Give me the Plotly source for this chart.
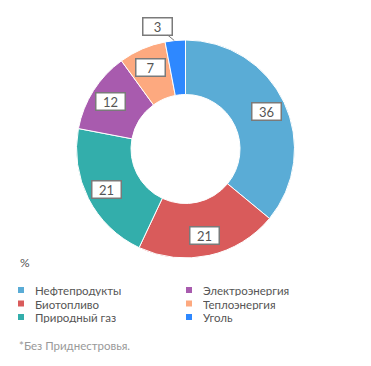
import math
import plotly.graph_objects as go

categories = ["Нефтепродукты", "Биотопливо", "Природный газ", "Электроэнергия", "Теплоэнергия", "Уголь"]
values = [36, 21, 21, 12, 7, 3]
colors = ["#5AACD6", "#D95B5B", "#33AEAB", "#A85BAE", "#FDA97F", "#2E88FF"]
unit_label = "%"
footnote = "*Без Приднестровья."

W, H = 371, 366
cx, cy, R = 185.5, 149, 109

def px(x):
    return x / W

def py(y):
    return 1 - y / H

fig = go.Figure(go.Pie(
    labels=categories, values=values, sort=False, direction="clockwise", rotation=0,
    hole=0.5, marker=dict(colors=colors, line=dict(color="white", width=1)),
    textinfo="none", hoverinfo="label+value", showlegend=False,
    domain=dict(x=[px(cx - R), px(cx + R)], y=[py(cy + R), py(cy - R)]),
))

FONT = "Lato"
annotations = []
total = sum(values)
cum = 0
for i, v in enumerate(values):
    mid = (cum + v / 2) / total * 2 * math.pi
    cum += v
    box = dict(text=str(v), font=dict(family=FONT, size=13, color="#555"),
               bgcolor="white", bordercolor="#7a7a7a", borderwidth=1.5, borderpad=1,
               xref="paper", yref="paper", width=26, height=14,
               xanchor="center", yanchor="middle")
    if v < 5:
        x0 = cx + R * math.sin(mid) - 1
        y0 = cy - R * math.cos(mid)
        box.update(x=px(x0), y=py(y0), showarrow=True, arrowhead=0, arrowwidth=1,
                   arrowcolor="#7a7a7a", ax=-17, ay=-14)
    else:
        r = 89
        box.update(x=px(cx + r * math.sin(mid)), y=py(cy - r * math.cos(mid)), showarrow=False)
    annotations.append(box)

annotations.append(dict(text=unit_label, x=px(18), y=py(262), xref="paper", yref="paper",
                        xanchor="left", yanchor="middle", showarrow=False,
                        font=dict(family=FONT, size=12, color="#555")))
annotations.append(dict(text=footnote, x=px(17), y=py(345), xref="paper", yref="paper",
                        xanchor="left", yanchor="middle", showarrow=False,
                        font=dict(family=FONT, size=11.5, color="#999")))

shapes = []
rows = [290, 303.5, 317]
cols = [(18, 33), (186, 201)]
for i, (name, col) in enumerate(zip(categories, colors)):
    c = i // 3
    r = i % 3
    mx, tx = cols[c]
    y = rows[r]
    shapes.append(dict(type="rect", xref="paper", yref="paper",
                       x0=px(mx), x1=px(mx + 6), y0=py(y + 3), y1=py(y - 3),
                       fillcolor=col, line=dict(width=0)))
    annotations.append(dict(text=name, x=px(tx), y=py(y), xref="paper", yref="paper",
                            xanchor="left", yanchor="middle", showarrow=False, height=12,
                            font=dict(family=FONT, size=11.5, color="#555")))

fig.update_layout(width=W, height=H, margin=dict(l=0, r=0, t=0, b=0),
                  paper_bgcolor="white", plot_bgcolor="white",
                  annotations=annotations, shapes=shapes)
fig.write_html("out.html")
